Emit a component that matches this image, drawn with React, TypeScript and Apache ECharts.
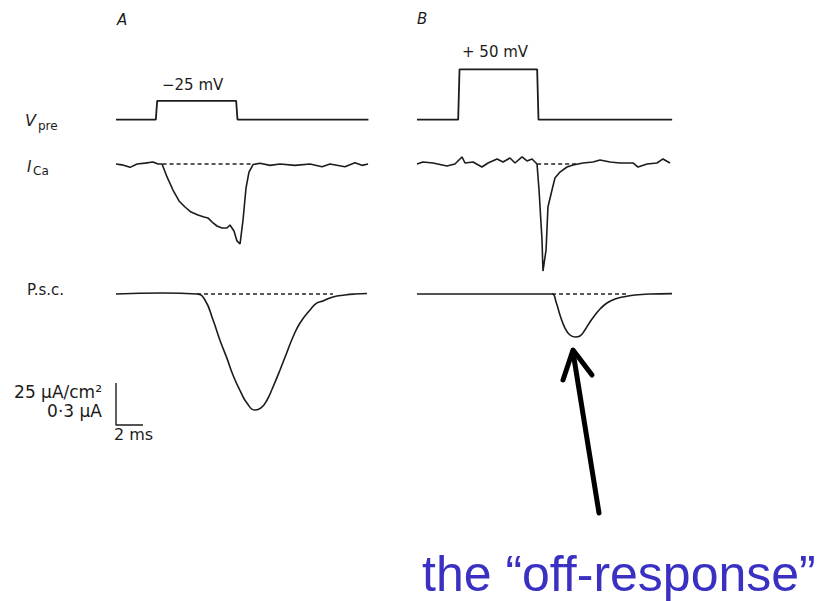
import React, { useEffect, useRef } from "react";
import * as echarts from "echarts";

// ---- Data (time in ms, V in mV, I_Ca in µA/cm², P.s.c. in µA) ----
const vpreA_t = [0, 2.95, 3.05, 8.9, 9.0, 18.7];
const vpreA_v = [-70, -70, -25, -25, -70, -70];
const vpreB_t = [0, 3.05, 3.15, 8.9, 9.0, 18.9];
const vpreB_v = [-70, -70, 50, 50, -70, -70];

const icaA_t = [0, 0.44, 1.04, 1.56, 2.15, 2.74, 3.11, 3.41, 3.78, 4.22, 4.67, 5.11, 5.56, 6.07, 6.52, 6.81, 7.19, 7.48, 7.85, 8.22, 8.44, 8.74, 8.96, 9.19, 9.41, 9.63, 9.85, 10.15, 10.67, 11.41, 12.15, 13.26, 14.37, 15.26, 15.85, 16.96, 17.7, 18.22, 18.67];
const icaA_v = [0, -0.5, -2.0, 0, 0.5, 1.2, 0, 0, -7.7, -15.5, -22, -25.6, -28.6, -30.4, -31.5, -32.1, -35.1, -36.9, -38.1, -38.1, -36.3, -39.9, -45.8, -47.6, -33.3, -14.3, -4.8, -0.3, 0.4, -0.8, 0, -0.8, 0, -1.6, 0, -1.6, 0.8, -0.8, 0];

const icaB_t = [0, 0.44, 1.19, 2.22, 2.81, 3.33, 3.56, 4.15, 4.81, 5.26, 5.93, 6.37, 6.89, 7.26, 7.78, 8.15, 8.52, 8.89, 9.04, 9.26, 9.33, 9.56, 9.7, 10.0, 10.22, 10.59, 11.11, 11.56, 12.3, 13.04, 13.56, 14.3, 15.04, 16.0, 16.37, 17.04, 17.78, 18.22, 18.74];
const icaB_v = [0, 1.2, 0.6, -1.2, 0, 4.2, 0.6, 1.2, -1.8, 0.6, 3.0, 1.2, 3.6, 0.6, 4.2, 1.8, 3.0, 0, -15.5, -45.2, -63.7, -51.2, -25.6, -15.5, -8.3, -4.8, -1.8, -0.6, 0.6, 1.2, 2.4, 1.2, 0.6, 0.6, -1.8, 0, 0.6, 3.0, 0.6];

const pscA_t = [0, 3.48, 6.0, 6.59, 7.19, 7.7, 8.22, 8.67, 9.19, 9.7, 10.3, 10.74, 11.19, 11.63, 12.15, 12.67, 13.11, 13.63, 14.37, 14.89, 15.33, 16.07, 16.96, 17.7, 18.59];
const pscA_v = [0, 0.007, 0, -0.043, -0.186, -0.33, -0.46, -0.58, -0.69, -0.779, -0.829, -0.814, -0.757, -0.664, -0.543, -0.414, -0.307, -0.207, -0.114, -0.064, -0.05, -0.021, -0.007, 0, 0.004];

const pscB_t = [0, 4.67, 10.0, 10.3, 10.59, 10.96, 11.33, 11.7, 12.07, 12.44, 12.81, 13.19, 13.56, 14.07, 14.67, 15.26, 16.15, 17.26, 18.89];
const pscB_v = [0, 0, 0, -0.057, -0.15, -0.243, -0.293, -0.307, -0.3, -0.257, -0.2, -0.15, -0.107, -0.064, -0.036, -0.021, -0.007, 0, 0.003];

// dashed baselines [start ms, end ms]
const icaA_base = [3.45, 10.15];
const icaB_base = [8.9, 12.0];
const pscA_base = [6.0, 16.07];
const pscB_base = [10.0, 15.55];

// calibration bars
const calCurrent = 0.3; // µA
const calTime = 2; // ms

const zip = (t: number[], v: number[]) => t.map((x, i) => [x, v[i]]);

export default function App() {
  const ref = useRef<HTMLDivElement>(null);
  useEffect(() => {
    if (!ref.current) return;
    const chart = echarts.init(ref.current, null, { renderer: "svg" });
    const pxPerMs = 13.5;
    const leftA = 116;
    const leftB = 417;
    const maxA = 18.7;
    const maxB = 18.9;
    const rows = [
      { top: 48.3, height: 84, min: -100, max: 100 }, // Vpre
      { top: 147.2, height: 151.2, min: -80, max: 10 }, // ICa
      { top: 280, height: 154, min: -1.0, max: 0.1 }, // Psc
    ];
    const grids: any[] = [];
    const xAxes: any[] = [];
    const yAxes: any[] = [];
    rows.forEach((r) => {
      [
        [leftA, maxA],
        [leftB, maxB],
      ].forEach(([left, mx]) => {
        grids.push({ left, top: r.top, width: mx * pxPerMs, height: r.height });
        const gi = grids.length - 1;
        xAxes.push({ type: "value", gridIndex: gi, min: 0, max: mx, show: false });
        yAxes.push({ type: "value", gridIndex: gi, min: r.min, max: r.max, show: false });
      });
    });
    const trace = (idx: number, data: number[][], smooth: number | boolean = false, width = 1.6) => ({
      type: "line",
      xAxisIndex: idx,
      yAxisIndex: idx,
      data,
      showSymbol: false,
      symbol: "none",
      smooth,
      clip: false,
      lineStyle: { color: "#1c1c1c", width },
      silent: true,
    });
    const dashed = (idx: number, range: number[]) => ({
      type: "line",
      xAxisIndex: idx,
      yAxisIndex: idx,
      data: [
        [range[0], 0],
        [range[1], 0],
      ],
      symbol: "none",
      clip: false,
      lineStyle: { color: "#222", width: 1.4, type: [4, 3] },
      silent: true,
    });
    const calBase = -0.936;
    const series: any[] = [
      trace(0, zip(vpreA_t, vpreA_v), false, 1.8),
      trace(1, zip(vpreB_t, vpreB_v), false, 1.8),
      dashed(2, icaA_base),
      dashed(3, icaB_base),
      dashed(4, pscA_base),
      dashed(5, pscB_base),
      trace(2, zip(icaA_t, icaA_v)),
      trace(3, zip(icaB_t, icaB_v)),
      trace(4, zip(pscA_t, pscA_v), 0.5),
      trace(5, zip(pscB_t, pscB_v), 0.4),
      {
        type: "line",
        xAxisIndex: 4,
        yAxisIndex: 4,
        data: [
          [0, calBase + calCurrent],
          [0, calBase],
          [calTime, calBase],
        ],
        symbol: "none",
        clip: false,
        lineStyle: { color: "#1c1c1c", width: 1.4 },
        silent: true,
      },
    ];
    const font = (size: number, italic = false) =>
      `${italic ? "italic " : ""}${size}px "DejaVu Sans", sans-serif`;
    const txt = (text: string, x: number, y: number, size: number, opts: any = {}) => ({
      type: "text",
      x,
      y,
      silent: true,
      style: {
        text,
        font: font(size, opts.italic),
        fill: opts.fill || "#1c1c1c",
        align: opts.align || "left",
        verticalAlign: "middle",
      },
    });
    const graphic: any[] = [
      txt("A", 117, 20, 15, { italic: true }),
      txt("B", 417, 19, 15, { italic: true }),
      txt("−25 mV", 162, 85, 15),
      txt("+ 50 mV", 462, 52, 15),
      txt("V", 25, 120, 16, { italic: true }),
      txt("pre", 38, 126, 12),
      txt("I", 27, 167, 15, { italic: true }),
      txt("Ca", 33, 171, 12),
      txt("P.s.c.", 27, 290, 15),
      txt("25 μA/cm²", 102, 392, 17, { align: "right" }),
      txt("0·3 μA", 102, 411, 17, { align: "right" }),
      txt("2 ms", 114, 434, 16),
      {
        type: "line",
        silent: true,
        shape: { x1: 599, y1: 513, x2: 573, y2: 352 },
        style: { stroke: "#000", lineWidth: 5, lineCap: "round" },
      },
      {
        type: "polyline",
        silent: true,
        shape: {
          points: [
            [563, 380],
            [573, 350],
            [592, 375],
          ],
        },
        style: { stroke: "#000", lineWidth: 5, lineCap: "round", lineJoin: "round", fill: null },
      },
      {
        type: "text",
        x: 422,
        y: 574,
        silent: true,
        style: {
          text: "the “off-response”",
          font: '50px "Liberation Sans", Arial, sans-serif',
          fill: "#3a30c2",
          align: "left",
          verticalAlign: "middle",
        },
      },
    ];
    chart.setOption({
      animation: false,
      backgroundColor: "#ffffff",
      grid: grids,
      xAxis: xAxes,
      yAxis: yAxes,
      series,
      graphic,
    });
    return () => chart.dispose();
  }, []);
  return (
    <div
      ref={ref}
      style={{ position: "fixed", left: 0, top: 0, width: 824, height: 601, background: "#fff" }}
    />
  );
}
